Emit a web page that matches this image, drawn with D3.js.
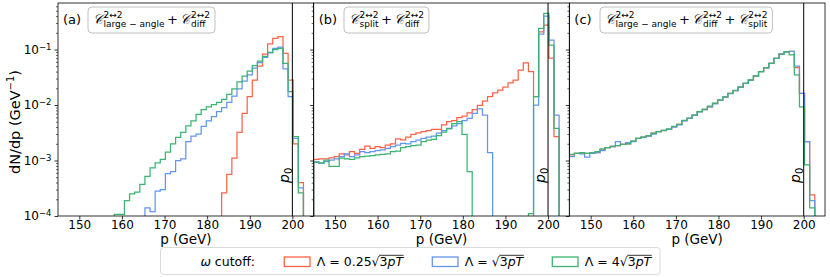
<!DOCTYPE html>
<html>
<head>
<meta charset="utf-8">
<script src="https://cdn.jsdelivr.net/npm/d3@7/dist/d3.min.js"></script>
<style>
  body { margin: 0; background: #fff; }
  text { font-family: "DejaVu Sans", sans-serif; fill: #000; }
</style>
</head>
<body>
<svg id="chart" width="830" height="277"></svg>
<script>
// bin edges of the step histograms (GeV)
const edges = [145.0,146.2,147.4,148.6,149.8,151.0,152.2,153.4,154.6,155.8,
  157.0,158.2,159.4,160.6,161.8,163.0,164.2,165.4,166.6,167.8,
  169.0,170.2,171.4,172.6,173.8,175.0,176.2,177.4,178.6,179.8,
  181.0,182.2,183.4,184.6,185.8,187.0,188.2,189.4,190.6,191.8,
  193.0,194.2,195.4,196.6,197.8,199.0,200.2,201.4,202.6,203.8,205.0];

// panel (a): large-angle + diff
const aRed = [0,0,0,0,0,0,0,0,0,0,
  0,0,0,0,0,0,0,0,0,0,
  0,0,0,0,0,0,0,0,0,0,
  0,0,2.6e-4,5.6e-4,1.1e-3,3.2e-3,7.1e-3,1.41e-2,2.8e-2,5.0e-2,
  8.3e-2,0.126,0.158,0.17,0.085,0.028,2.0e-3,4.0e-4,0,0];
const aBlue = [0,0,0,0,0,0,0,0,0,0,
  0,0,0,0,0,0,0,1.4e-4,1.2e-4,2.8e-4,
  3.0e-4,5.8e-4,6.3e-4,1.0e-3,1.07e-3,2.2e-3,2.75e-3,3.0e-3,4.1e-3,5.2e-3,
  6.2e-3,7.6e-3,9.0e-3,1.12e-2,1.45e-2,1.95e-2,2.7e-2,3.5e-2,4.6e-2,5.8e-2,
  7.2e-2,8.7e-2,0.105,0.11,0.045,0.0141,2.5e-3,3.2e-4,0,0];
const aGreen = [0,0,0,0,0,0,0,0,0,0,
  0,1.07e-4,1.07e-4,1.9e-4,2.5e-4,2.7e-4,3.7e-4,5.2e-4,7.4e-4,9.1e-4,
  1.05e-3,1.41e-3,2.0e-3,2.6e-3,3.2e-3,4.2e-3,5.2e-3,6.8e-3,8.3e-3,9.3e-3,
  1.02e-2,1.12e-2,1.26e-2,1.55e-2,1.95e-2,2.6e-2,3.3e-2,4.1e-2,5.1e-2,6.2e-2,
  7.5e-2,8.9e-2,0.1,0.105,0.056,0.0174,2.7e-3,2.6e-4,0,0];

// panel (b): split + diff
const bRed = [1.05e-3,1.07e-3,1.07e-3,1.12e-3,1.17e-3,1.32e-3,1.26e-3,1.45e-3,1.35e-3,1.58e-3,
  1.82e-3,1.66e-3,1.78e-3,1.7e-3,1.9e-3,2.0e-3,2.45e-3,2.35e-3,2.63e-3,2.95e-3,
  3.16e-3,3.3e-3,3.47e-3,3.63e-3,3.63e-3,4.37e-3,5.0e-3,5.25e-3,5.9e-3,6.3e-3,
  7.2e-3,8.3e-3,9.8e-3,1.17e-2,1.41e-2,1.66e-2,1.86e-2,2.09e-2,2.51e-2,2.82e-2,
  4.27e-2,5.75e-2,3.98e-2,1.41e-2,0.209,0.275,0.07,2.7e-3,0,0];
const bBlue = [9.5e-4,8.9e-4,9.5e-4,1.02e-3,1.07e-3,1.17e-3,1.32e-3,1.17e-3,1.26e-3,1.45e-3,
  1.38e-3,1.45e-3,1.51e-3,1.55e-3,1.66e-3,1.78e-3,1.9e-3,2.04e-3,2.0e-3,2.19e-3,
  2.34e-3,2.5e-3,2.63e-3,2.75e-3,3.1e-3,3.47e-3,3.8e-3,4.2e-3,4.6e-3,5.25e-3,
  5.75e-3,7.1e-3,8.5e-3,6.6e-3,1.38e-3,0,0,0,0,0,
  0,0,0,1.0e-2,0.19,0.4,0.148,6.6e-3,0,0];
const bGreen = [9.3e-4,9.1e-4,1.02e-3,7.8e-4,7.8e-4,1.1e-3,1.07e-3,1.05e-3,1.12e-3,1.17e-3,
  1.2e-3,1.23e-3,1.26e-3,1.29e-3,1.32e-3,1.45e-3,1.48e-3,1.7e-3,1.78e-3,1.86e-3,
  1.9e-3,2.19e-3,2.34e-3,2.4e-3,2.82e-3,3.24e-3,3.72e-3,4.6e-3,5.0e-3,2.95e-3,
  6.3e-4,0,0,0,0,0,0,0,0,0,
  0,0,1.1e-4,1.41e-2,0.24,0.447,0.12,3.8e-3,0,0];

// panel (c): large-angle + diff + split
const cRed = [1.26e-3,1.35e-3,1.35e-3,1.35e-3,1.35e-3,1.38e-3,1.55e-3,1.7e-3,1.78e-3,1.86e-3,
  1.95e-3,2.0e-3,2.24e-3,2.5e-3,2.63e-3,2.75e-3,3.1e-3,3.3e-3,3.47e-3,3.63e-3,
  4.07e-3,4.47e-3,5.25e-3,5.75e-3,6.6e-3,7.6e-3,8.3e-3,9.3e-3,1.07e-2,1.23e-2,
  1.38e-2,1.62e-2,1.82e-2,2.09e-2,2.45e-2,2.82e-2,3.31e-2,3.98e-2,4.68e-2,5.62e-2,
  6.9e-2,8.3e-2,9.1e-2,9.3e-2,4.7e-2,1.62e-2,2.2e-3,2.4e-4,0,0];
const cBlue = [1.17e-3,1.35e-3,1.32e-3,1.15e-3,1.35e-3,1.38e-3,1.51e-3,1.7e-3,1.78e-3,2.19e-3,
  1.95e-3,2.09e-3,2.2e-3,2.5e-3,2.6e-3,2.75e-3,3.0e-3,3.3e-3,3.5e-3,3.63e-3,
  4.0e-3,4.4e-3,5.2e-3,5.75e-3,6.5e-3,7.5e-3,8.3e-3,9.3e-3,1.05e-2,1.23e-2,
  1.38e-2,1.6e-2,1.82e-2,2.09e-2,2.45e-2,2.82e-2,3.31e-2,3.98e-2,4.68e-2,5.62e-2,
  6.9e-2,8.3e-2,9.1e-2,9.3e-2,5.0e-2,1.62e-2,2.2e-3,1.9e-4,0,0];
const cGreen = [1.29e-3,1.35e-3,1.38e-3,1.35e-3,1.38e-3,1.45e-3,1.62e-3,1.7e-3,1.82e-3,1.86e-3,
  1.95e-3,2.0e-3,2.24e-3,2.5e-3,2.63e-3,2.8e-3,3.1e-3,3.3e-3,3.5e-3,3.7e-3,
  4.1e-3,4.5e-3,5.3e-3,5.8e-3,6.6e-3,7.6e-3,8.4e-3,9.5e-3,1.08e-2,1.23e-2,
  1.4e-2,1.62e-2,1.84e-2,2.1e-2,2.45e-2,2.85e-2,3.35e-2,4.0e-2,4.7e-2,5.62e-2,
  6.9e-2,8.3e-2,9.1e-2,8.0e-2,3.5e-2,9.3e-3,8.3e-4,1.4e-4,0,0];

const panelLabels = ["(a)", "(b)", "(c)"];
const panelTerms = [["large − angle", "diff"], ["split", "diff"], ["large − angle", "diff", "split"]];
const seriesCoef = ["0.25", "", "4"];
const colors = ["tomato", "cornflowerblue", "mediumseagreen"];
const xTicks = [150, 160, 170, 180, 190, 200];
const yTicks = [1e-4, 1e-3, 1e-2, 1e-1];
const p0 = 200;

const panels = [
  {series: [aRed, aBlue, aGreen]},
  {series: [bRed, bBlue, bGreen]},
  {series: [cRed, cBlue, cGreen]}
];

// layout
const plotLeft = 58, plotTop = 3, plotBottom = 216;
const panelW = 255.67;
const boxLeft = [88, 344, 600];

const svg = d3.select("#chart");

var y = d3.scaleLog()
    .domain([1e-4, 0.689])
    .range([plotBottom, plotTop]);

var yMinor = [];
[-4, -3, -2, -1].forEach(function(e) {
    for (var m = 2; m <= 9; m++) {
        var v = m * Math.pow(10, e);
        if (v <= 0.689) yMinor.push(v);
    }
});

// draws C^{2<->2}_{sub} + ... and returns the end x
function drawMath(g, x, base, subs) {
    var cx = x;
    subs.forEach(function(s, i) {
        if (i > 0) {
            var plus = g.append("text").attr("x", cx + 2.5).attr("y", base)
                .attr("font-size", 13).text("+");
            cx += plus.node().getComputedTextLength() + 5;
        }
        var c = g.append("text").attr("x", cx).attr("y", base)
            .attr("font-size", 14).attr("font-style", "italic")
            .attr("font-family", "'DejaVu Serif', serif").text("𝒞");
        cx += c.node().getComputedTextLength() + 0.5;
        var sup = g.append("text").attr("x", cx).attr("y", base - 6.5)
            .attr("font-size", 9).text("2↔2");
        var sub = g.append("text").attr("x", cx).attr("y", base + 3)
            .attr("font-size", 9).text(s);
        cx += Math.max(sup.node().getComputedTextLength(), sub.node().getComputedTextLength());
    });
    return cx;
}

panels.forEach(function(p, i) {
    var x0 = plotLeft + i * panelW;
    var x = d3.scaleLinear()
        .domain([145, 205])
        .range([x0, x0 + panelW]);

    var g = svg.append("g");

    svg.append("clipPath").attr("id", "clip" + i)
      .append("rect")
        .attr("x", x0).attr("y", plotTop)
        .attr("width", panelW).attr("height", plotBottom - plotTop);

    // step histograms
    var line = d3.line()
        .x(function(d) { return x(d[0]); })
        .y(function(d) { return d[1] > 0 ? y(d[1]) : plotBottom + 20; })
        .curve(d3.curveStepAfter);

    p.series.forEach(function(vals, j) {
        var pts = [[edges[0], 0]]
            .concat(vals.map(function(v, k) { return [edges[k], v]; }))
            .concat([[edges[vals.length], vals[vals.length - 1]], [edges[vals.length], 0]]);
        g.append("path")
            .attr("d", line(pts))
            .attr("fill", "none")
            .attr("stroke", colors[j])
            .attr("stroke-width", 1.25)
            .attr("clip-path", "url(#clip" + i + ")");
    });

    // p0 marker
    g.append("line")
        .attr("x1", x(p0)).attr("x2", x(p0))
        .attr("y1", plotTop).attr("y2", plotBottom)
        .attr("stroke", "#000").attr("stroke-width", 1);
    var pt = g.append("text")
        .attr("transform", "translate(" + (x(p0) - 3.5) + ",183) rotate(-90)")
        .attr("font-size", 14);
    pt.append("tspan").attr("font-style", "italic").text("p");
    pt.append("tspan").attr("dy", 3).attr("font-size", 10).text("0");

    // x axis
    var gx = g.append("g")
        .attr("transform", "translate(0," + plotBottom + ")")
        .call(d3.axisBottom(x).tickValues(xTicks).tickSize(3.5).tickPadding(2));
    gx.select(".domain").remove();
    gx.selectAll(".tick line").attr("stroke", "#000").attr("stroke-width", 0.8);
    gx.selectAll(".tick text")
        .attr("font-size", 12).attr("font-family", "DejaVu Sans").attr("fill", "#000")
        .attr("dy", null).attr("y", 12.5);

    // y axis (major + minor)
    var gy = g.append("g")
        .attr("transform", "translate(" + x0 + ",0)")
        .call(d3.axisLeft(y).tickValues(yTicks).tickSize(3.5).tickPadding(3)
            .tickFormat(function() { return ""; }));
    gy.select(".domain").remove();
    gy.selectAll(".tick line").attr("stroke", "#000").attr("stroke-width", 0.8);
    if (i === 0) {
        gy.selectAll(".tick text").each(function(d) {
            var t = d3.select(this).attr("font-size", 12).attr("font-family", "DejaVu Sans").attr("fill", "#000");
            t.text("10");
            t.append("tspan").attr("dy", "-0.5em").attr("font-size", 8.5)
                .text("−" + Math.abs(Math.round(Math.log10(d))));
        });
    }
    var gm = g.append("g")
        .attr("transform", "translate(" + x0 + ",0)")
        .call(d3.axisLeft(y).tickValues(yMinor).tickSize(2).tickFormat(""));
    gm.select(".domain").remove();
    gm.selectAll(".tick line").attr("stroke", "#000").attr("stroke-width", 0.6);

    // frame
    g.append("rect")
        .attr("x", x0).attr("y", plotTop)
        .attr("width", panelW).attr("height", plotBottom - plotTop)
        .attr("fill", "none").attr("stroke", "#000").attr("stroke-width", 0.8);

    // x label
    g.append("text")
        .attr("x", x0 + panelW / 2).attr("y", 244)
        .attr("text-anchor", "middle").attr("font-size", 13.5)
        .text("p (GeV)");

    // panel tag and formula box
    g.append("text").attr("x", x0 + 5).attr("y", 24).attr("font-size", 13).text(panelLabels[i]);
    var box = g.append("g");
    var rect = box.append("rect");
    var bx = boxLeft[i];
    var end = drawMath(box, bx + 5, 24, panelTerms[i]);
    rect.attr("x", bx).attr("y", 7).attr("width", end + 5 - bx).attr("height", 26)
        .attr("rx", 4).attr("fill", "#fff").attr("stroke", "#b0b0b0").attr("stroke-width", 0.8);
});

// y label
var yl = svg.append("text")
    .attr("transform", "translate(20,122) rotate(-90)")
    .attr("text-anchor", "middle").attr("font-size", 14.5);
yl.append("tspan").text("dN/dp (GeV");
yl.append("tspan").attr("dy", -6).attr("font-size", 10).text("−1");
yl.append("tspan").attr("dy", 6).text(")");

// legend
var lg = svg.append("g");
lg.append("rect")
    .attr("x", 160.5).attr("y", 247.5).attr("width", 499.5).attr("height", 27)
    .attr("rx", 3).attr("fill", "#fff").attr("stroke", "#d0d0d0").attr("stroke-width", 0.8);
var lt = lg.append("text").attr("x", 255).attr("y", 266).attr("text-anchor", "end").attr("font-size", 12.5);
lt.append("tspan").attr("font-style", "italic").text("ω");
lt.append("tspan").text(" cutoff:");

var patchX = [284.3, 432.3, 552.3];
seriesCoef.forEach(function(coef, j) {
    lg.append("rect")
        .attr("x", patchX[j]).attr("y", 257).attr("width", 25.7).attr("height", 9.5)
        .attr("fill", "none").attr("stroke", colors[j]).attr("stroke-width", 1.3);
    var tx = patchX[j] + 32.5;
    var t1 = lg.append("text").attr("x", tx).attr("y", 266).attr("font-size", 12.5)
        .text("Λ = " + coef + "√");
    var w1 = t1.node().getComputedTextLength();
    var t2 = lg.append("text").attr("x", tx + w1).attr("y", 266).attr("font-size", 12.5);
    t2.append("tspan").text("3");
    t2.append("tspan").attr("font-style", "italic").text("pT");
    var w2 = t2.node().getComputedTextLength();
    lg.append("line")
        .attr("x1", tx + w1 - 0.5).attr("x2", tx + w1 + w2 + 0.5)
        .attr("y1", 255.3).attr("y2", 255.3)
        .attr("stroke", "#000").attr("stroke-width", 0.8);
});
</script>
</body>
</html>
